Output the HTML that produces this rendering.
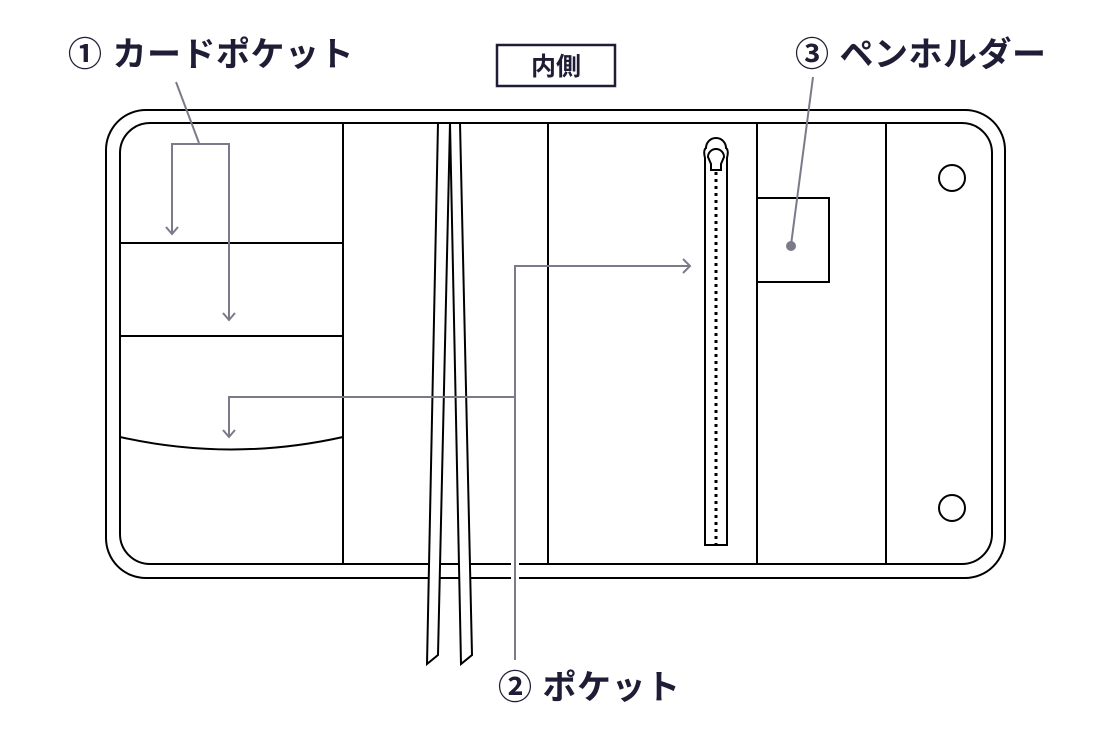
<!DOCTYPE html>
<html><head><meta charset="utf-8"><style>
html,body{margin:0;padding:0;background:#fff;}
svg{display:block}
text{font-family:"Liberation Sans","Noto Sans CJK JP",sans-serif;font-weight:bold;fill:#1f1d35}
</style></head><body>
<svg width="1118" height="738" viewBox="0 0 1118 738" xmlns="http://www.w3.org/2000/svg">
<g fill="none" stroke="#000" stroke-width="2">
<rect x="106" y="110" width="899" height="468" rx="40"/>
<rect x="120" y="123" width="872" height="441" rx="30"/>
<line x1="343" y1="123" x2="343" y2="564"/>
<line x1="548" y1="123" x2="548" y2="564"/>
<line x1="757" y1="123" x2="757" y2="564"/>
<line x1="886" y1="123" x2="886" y2="564"/>
<line x1="120" y1="243" x2="343" y2="243"/>
<line x1="120" y1="336" x2="343" y2="336"/>
<path d="M120 437 Q231 462 343 437"/>
<rect x="757" y="198" width="72" height="84"/>
<circle cx="952" cy="178" r="13"/>
<circle cx="952" cy="508" r="13"/>
<path d="M705 545 V158 Q703 150 706 148 A10 10 0 0 1 726 148 Q729 150 727 158 V545 Z" fill="#fff"/>
<path d="M708 157 A8 8 0 0 1 724 157 L721 164 V170 H711 V164 Z"/>
</g>
<line x1="716" y1="172" x2="716" y2="545" stroke="#000" stroke-width="3" stroke-dasharray="3 4"/>
<g fill="#fff" stroke="#000" stroke-width="2">
<path d="M438 123 L450 123 L438 655 L427 664 Z"/>
<path d="M450 123 L460 123 L472 655 L461 664 Z"/>
</g>
<g fill="none" stroke="#7a7a8a" stroke-width="2">
<line x1="176" y1="82" x2="199" y2="143"/>
<path d="M172 233 V144 H229 V320"/>
<path d="M166 227 L172 234 L178 227"/>
<path d="M223 313 L229 320 L235 313"/>
<line x1="515" y1="660" x2="515" y2="266" stroke="#fff" stroke-width="8"/>
<path d="M515 660 V266 H690"/>
<path d="M683 259 L690 266 L683 273"/>
<path d="M515 397 H229 V437"/>
<path d="M223 430 L229 437 L235 430"/>
<line x1="813" y1="77" x2="791" y2="245"/>
</g>
<circle cx="791" cy="246" r="5" fill="#7a7a8a"/>
<rect x="497" y="45" width="118" height="41" fill="none" stroke="#1f1d35" stroke-width="2.5"/>
<text x="556" y="75" font-size="25" text-anchor="middle">内側</text>
<text x="68" y="66" font-size="34" letter-spacing="0.5">① カードポケット</text>
<text x="795" y="66" font-size="34" letter-spacing="0.5">③ ペンホルダー</text>
<text x="498" y="699" font-size="34" letter-spacing="0.5">② ポケット</text>
</svg>
</body></html>
